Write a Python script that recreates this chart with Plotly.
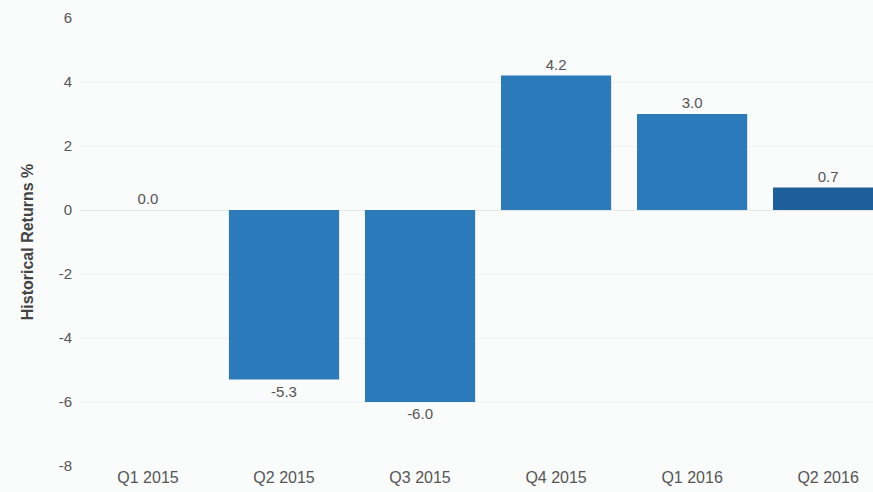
import plotly.graph_objects as go

categories = ["Q1 2015", "Q2 2015", "Q3 2015", "Q4 2015", "Q1 2016", "Q2 2016"]
returns = [0.0, -5.3, -6.0, 4.2, 3.0, 0.7]
bar_colors = ["#2b7bba", "#2b7bba", "#2b7bba", "#2b7bba", "#2b7bba", "#1d5f98"]
y_ticks = [-8, -6, -4, -2, 0, 2, 4, 6]

fig = go.Figure()
fig.add_trace(go.Bar(
    x=categories,
    y=returns,
    marker=dict(color=bar_colors, line=dict(width=0)),
    text=[f"{v:.1f}" for v in returns],
    textposition="outside",
    textfont=dict(family="Liberation Sans, Arial, sans-serif", size=15, color="#555555"),
    cliponaxis=False,
    width=0.81,
))

fig.update_layout(
    width=873,
    height=492,
    margin=dict(l=80, r=0, t=18, b=26),
    paper_bgcolor="#fafbfb",
    plot_bgcolor="#fafbfb",
    showlegend=False,
    font=dict(family="Liberation Sans, Arial, sans-serif", color="#555555"),
    xaxis=dict(
        range=[-0.5, 5.33],
        showgrid=False,
        showline=False,
        ticks="",
        tickfont=dict(family="Liberation Sans, Arial, sans-serif", size=16, color="#555555"),
    ),
    yaxis=dict(
        range=[-8, 6],
        tickvals=y_ticks,
        ticktext=[str(v) for v in y_ticks],
        showgrid=True,
        gridcolor="#f1f2f2",
        zeroline=True,
        zerolinecolor="#e6e8e8",
        zerolinewidth=1,
        showline=False,
        ticks="",
        ticklabelstandoff=7,
        tickfont=dict(size=15, color="#555555"),
        title=dict(
            text="<b>Historical Returns %</b>",
            font=dict(family="Liberation Sans, Arial, sans-serif", size=16, color="#444444"),
            standoff=21,
        ),
    ),
)

fig.write_html(
    "out.html",
    config={"displayModeBar": False},
    post_script="document.body.style.margin='0';document.body.style.overflow='hidden';",
)
